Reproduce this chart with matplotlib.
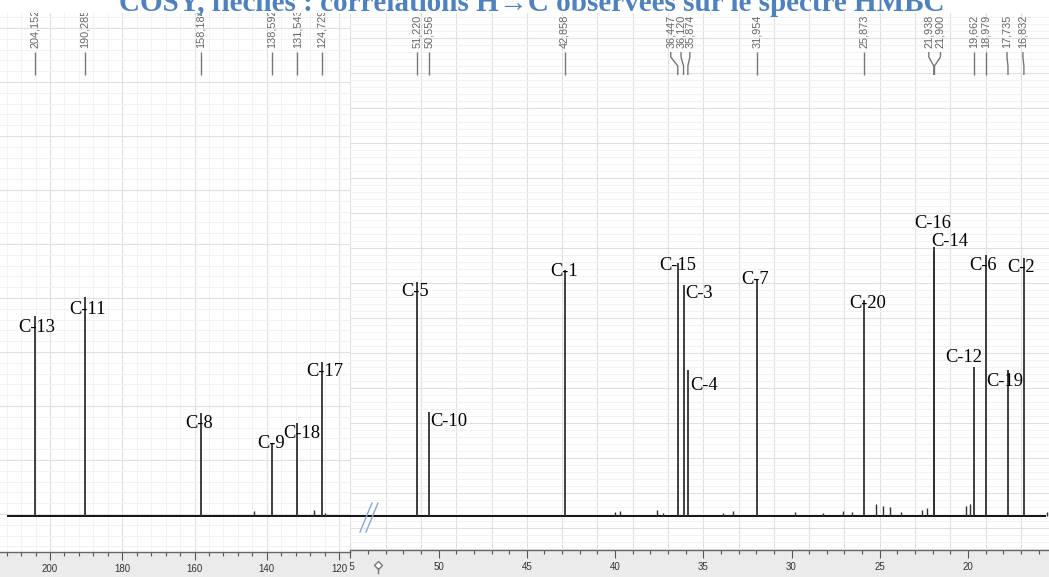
import matplotlib
matplotlib.use('Agg')
import matplotlib.pyplot as plt
from matplotlib.ticker import MultipleLocator
from matplotlib.patches import Rectangle
from matplotlib.lines import Line2D
from matplotlib.transforms import Bbox

W, H = 1049, 577

# ---------------- data (chemical shifts in ppm, intensities in arbitrary units) ----------------
left_ppm = [204.152, 190.285, 158.184, 138.592, 131.543, 124.729]
left_int = [200, 219, 103, 73, 93, 154]
left_lab = ['C-13', 'C-11', 'C-8', 'C-9', 'C-18', 'C-17']

right_ppm = [51.220, 50.556, 42.858, 36.447, 36.120, 35.874, 31.954, 25.873,
             21.938, 21.900, 19.662, 18.979, 17.735, 16.832]
right_int = [234, 104, 246, 253, 231, 146, 236, 216, 269, 265, 149, 261, 146, 258]
right_lab = ['C-5', 'C-10', 'C-1', 'C-15', 'C-3', 'C-4', 'C-7', 'C-20',
             'C-14', 'C-16', 'C-12', 'C-6', 'C-19', 'C-2']

small_left_ppm = [143.5, 127.0, 124.0]
small_left_int = [5, 6, 3]
small_right_ppm = [40.0, 39.7, 37.6, 37.3, 33.9, 33.3, 29.8, 28.2, 27.1, 26.6,
                   25.2, 24.8, 24.4, 23.8, 22.6, 22.3, 20.1, 19.9, 15.5]
small_right_int = [4, 5, 6, 3, 3, 5, 4, 3, 5, 4, 12, 10, 9, 4, 6, 8, 10, 12, 4]

left_ticks = [200, 180, 160, 140, 120]
right_ticks = [55, 50, 45, 40, 35, 30, 25, 20]

title = "COSY, flèches : corrélations H\u2192C observées sur le spectre HMBC"

# ---------------- layout (pixels / offsets, not data) ----------------
left_xlim = (213.84, 116.99)
right_xlim = (55.02, 15.41)
# label offsets: (dx pixels from peak, y in intensity units)
left_lab_pos = [(2, 188), (2.5, 207), (-2, 93), (-1, 72), (4, 83), (3, 144)]
right_lab_pos = [(-2, 224), (20, 95), (0, 245), (0, 251), (16, 222), (16, 130),
                 (-2, 237), (3, 213), (16, 275), (-2, 293), (-10, 159),
                 (-3, 251), (-3, 134), (-3, 248)]
# pixel shift of the rotated peak-list labels at the top
left_top_dx = [0, 0, 0, 0, 0, 0]
right_top_dx = [0, 0, 0, -7, -2.5, 2, 0, 0, -5, 6, 0, 0, -1, -1]

fig = plt.figure(figsize=(W / 100, H / 100), dpi=100)
fig.patch.set_facecolor('white')

# gray band of the ruler at bottom
fig.add_artist(Rectangle((0, 0), 1, 27 / H, transform=fig.transFigure,
                         facecolor='#ebebeb', edgecolor='none', zorder=-1))

axL = fig.add_axes([0, 25 / H, 350 / W, (552 - 13) / H])
axR = fig.add_axes([350 / W, 27 / H, 699 / W, (550 - 13) / H])
axL.set_ylim(-36, 503)
axR.set_ylim(-34, 503)


def style(ax, major, minor, xmaj, xmin, ymaj, ymaj_off, ymin):
    for s in ['top', 'left', 'right']:
        ax.spines[s].set_visible(False)
    ax.spines['bottom'].set_color('#666666')
    ax.spines['bottom'].set_linewidth(1.0)
    ax.set_xticks(major)
    ax.xaxis.set_minor_locator(MultipleLocator(minor))
    ax.tick_params(axis='x', which='major', direction='out', length=5.5, width=0.8,
                   color='#555555', labelsize=7, labelcolor='#333333', pad=3)
    ax.tick_params(axis='x', which='minor', direction='out', length=3, width=0.8,
                   color='#555555')
    ax.tick_params(axis='y', which='both', left=False, labelleft=False)
    for lbl in ax.get_xticklabels():
        lbl.set_family('Liberation Sans')
    # background grid
    for v in xmin:
        ax.axvline(v, color='#f2f2f2', lw=0.7, zorder=0)
    for v in xmaj:
        ax.axvline(v, color='#e0e0e0', lw=0.8, zorder=0)
    y = ymaj_off
    while y < 503:
        ax.axhline(y, color='#e0e0e0', lw=0.8, zorder=0)
        y += ymaj
    y = ymaj_off - ymaj
    while y < 503:
        for k in range(1, 5):
            yy = y + k * ymin
            if -40 < yy < 503:
                ax.axhline(yy, color='#f2f2f2', lw=0.7, zorder=0)
        y += ymaj


style(axL, left_ticks, 4,
      list(range(120, 220, 20)), [v for v in range(116, 216, 4) if v % 20],
      54, 2, 54 / 5)
style(axR, right_ticks, 1,
      list(range(15, 57, 2)), [],
      35, -12, 7)
axL.set_xlim(*left_xlim)
axR.set_xlim(*right_xlim)

# the "55" label of the right ruler is hidden behind the left ruler
fig.canvas.draw()
for t, lbl in zip(axR.get_xticks(), axR.get_xticklabels()):
    if t == 55:
        lbl.set_clip_on(True)
        lbl.set_clip_box(Bbox.from_extents(350, 0, W, H))

# ---------------- spectrum ----------------
line_col = '#303030'
axL.hlines(0, 211.8, left_xlim[1], color='black', lw=1.3, zorder=3)
axR.hlines(0, right_xlim[0], 15.6, color='black', lw=1.3, zorder=3)

axL.vlines(left_ppm, 0, left_int, color=line_col, lw=1.3, zorder=3)
axR.vlines(right_ppm, 0, right_int, color=line_col, lw=1.3, zorder=3)
axL.vlines(small_left_ppm, 0, small_left_int, color=line_col, lw=1.0, zorder=3)
axR.vlines(small_right_ppm, 0, small_right_int, color=line_col, lw=1.0, zorder=3)

# carbon labels
for ax, ppm, lab, pos in [(axL, left_ppm, left_lab, left_lab_pos),
                          (axR, right_ppm, right_lab, right_lab_pos)]:
    for p, l, (dx, yy) in zip(ppm, lab, pos):
        ax.annotate(l, xy=(p, yy), xytext=(dx, 0), textcoords='offset pixels',
                    ha='center', va='center', fontsize=13.3,
                    family='Liberation Serif', color='black', zorder=4)

# peak-list labels at the top
for ax, ppm, dxs, xl in [(axL, left_ppm, left_top_dx, left_xlim),
                         (axR, right_ppm, right_top_dx, right_xlim)]:
    bb = ax.get_position()
    scale = bb.width * W / (xl[0] - xl[1])  # px per ppm
    for p, dx in zip(ppm, dxs):
        lx = p - dx / scale
        ys = [516 - 52, 516 - 57, 516 - 66, 516 - 75]
        ax.plot([lx, lx, p, p], ys, color='#777777', lw=1.0, zorder=3,
                solid_capstyle='butt')
        ax.text(lx, 516 - 48, f"{p:.3f}".replace('.', ','), rotation=90,
                ha='center', va='bottom', fontsize=7.8, color='#666666',
                family='Liberation Sans', clip_on=True, zorder=3)

# break mark "//"
for (x0, y0, x1, y1) in [(360, 532, 372, 503), (366, 532, 378, 503)]:
    fig.add_artist(Line2D([x0 / W, x1 / W], [1 - y0 / H, 1 - y1 / H],
                          transform=fig.transFigure, color='#8aa6d6', lw=1.0))

# small cursor icon on the ruler
fig.add_artist(Line2D([378 / W], [1 - 565 / H], marker='D', markersize=4,
                      markerfacecolor='white', markeredgecolor='#777777',
                      transform=fig.transFigure))
fig.add_artist(Line2D([378 / W, 378 / W], [1 - 568 / H, 1 - 573 / H],
                      transform=fig.transFigure, color='#777777', lw=1.0))

# title (top part cut off)
fig.text(532 / W, 1 - 11 / H, title, ha='center', va='baseline',
         fontsize=21, fontweight='bold', color='#4f81bd',
         family=['Liberation Serif', 'DejaVu Serif'])

fig.savefig('out.png', dpi=100)
